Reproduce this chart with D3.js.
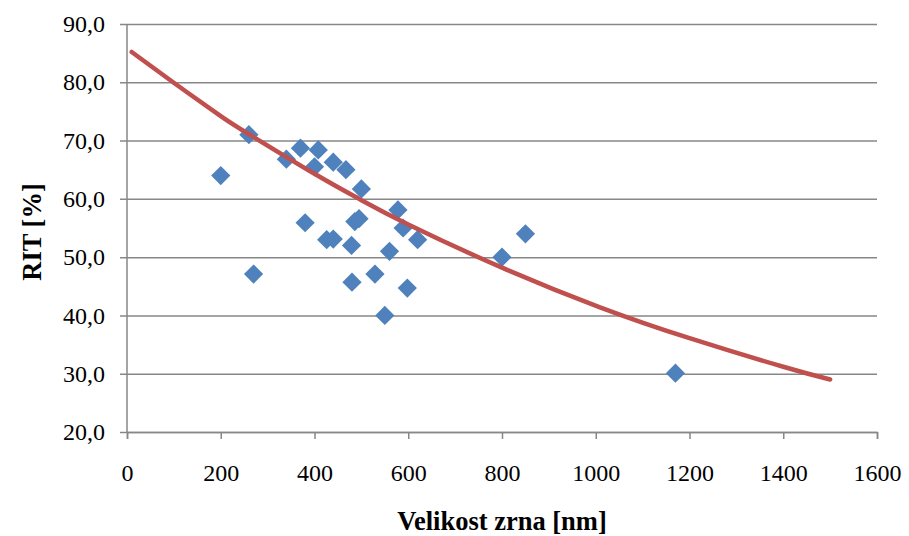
<!DOCTYPE html>
<html>
<head>
<meta charset="utf-8">
<script src="https://cdn.jsdelivr.net/npm/d3@7"></script>
<style>
  body { margin: 0; background: #fff; }
  .axis text { font-family: "Liberation Serif", "Times New Roman", serif; font-size: 24px; fill: #000; }
  .title { font-family: "Liberation Serif", "Times New Roman", serif; font-size: 26.5px; font-weight: bold; }
</style>
</head>
<body>
<div class="chart"></div>
<script>
// measured points: grain size [nm] vs RIT [%]
const grainSize = [200, 260, 270, 340, 370, 380, 400, 408, 426, 440, 440, 467, 479, 480, 486, 495, 500, 529, 550, 560, 578, 589, 598, 620, 800, 850, 1170];
const ritValues = [64.0, 71.0, 47.1, 66.8, 68.7, 55.9, 65.5, 68.4, 53.0, 53.1, 66.3, 65.0, 52.0, 45.7, 56.1, 56.6, 61.7, 47.1, 40.0, 51.0, 58.1, 55.0, 44.7, 53.0, 50.0, 54.0, 30.1];

// trendline
const trendX = [10, 102, 200, 262, 400, 495, 600, 800, 1009, 1200, 1400, 1500];
const trendY = [85.2, 79.8, 74.2, 71.0, 64.3, 60.0, 55.6, 48.2, 41.4, 36.1, 31.2, 29.0];

const xTicks = [0, 200, 400, 600, 800, 1000, 1200, 1400, 1600];
const yTicks = [20, 30, 40, 50, 60, 70, 80, 90];

const margin = ({top: 24, right: 32, bottom: 104, left: 127});
const width = 909 - margin.left - margin.right,
      height = 536 - margin.top - margin.bottom;

const svg = d3.select(".chart").append("svg")
    .attr("width", 909)
    .attr("height", 536)
  .append("g")
    .attr("transform", `translate(${margin.left},${margin.top})`);

const xScale = d3.scaleLinear().domain([0, 1600]).range([0, width]);
const yScale = d3.scaleLinear().domain([20, 90]).range([height, 0]);

const locale = d3.formatLocale({decimal: ",", thousands: "", grouping: [3], currency: ["", ""]});
const yFormat = locale.format(".1f");

// y axis + grid
const yAxis = d3.axisLeft(yScale).tickValues(yTicks).tickFormat(yFormat).tickSize(-width);
const gy = svg.append("g").attr("class", "axis y-axis").call(yAxis);
gy.select(".domain").remove();
gy.selectAll("line").attr("x1", -7).attr("stroke", "#878787").attr("stroke-width", 1.5);
gy.selectAll("text").attr("x", -22);

// x axis
const xAxis = d3.axisBottom(xScale).tickValues(xTicks).tickFormat(d3.format("d")).tickSize(7);
const gx = svg.append("g").attr("class", "axis x-axis")
    .attr("transform", `translate(0,${height})`)
    .call(xAxis);
gx.select(".domain").attr("stroke", "#878787").attr("stroke-width", 1.5);
gx.selectAll("line").attr("stroke", "#878787").attr("stroke-width", 1.5);
gx.selectAll("text").attr("dy", null).attr("y", 49);

// vertical axis line
svg.append("line")
    .attr("x1", 0).attr("x2", 0)
    .attr("y1", 0).attr("y2", height)
    .attr("stroke", "#878787").attr("stroke-width", 1.5);

// points
const points = grainSize.map((x, i) => ({x: x, y: ritValues[i]}));
const diamond = d3.symbol(d3.symbolSquare, 185);
svg.selectAll(".pt")
    .data(points)
    .enter()
    .append("path")
    .attr("class", "pt")
    .attr("d", diamond)
    .attr("transform", d => `translate(${xScale(d.x)},${yScale(d.y)}) rotate(45)`)
    .style("fill", "#4F81BD");

// trendline
const trend = trendX.map((x, i) => [x, trendY[i]]);
const line = d3.line()
    .x(d => xScale(d[0]))
    .y(d => yScale(d[1]))
    .curve(d3.curveNatural);
svg.append("path")
    .datum(trend)
    .attr("d", line)
    .attr("fill", "none")
    .attr("stroke", "#C0504D")
    .attr("stroke-width", 4.5)
    .attr("stroke-linecap", "round");

// axis titles
svg.append("text")
    .attr("class", "title")
    .attr("x", 502 - margin.left)
    .attr("y", 530 - margin.top)
    .attr("text-anchor", "middle")
    .text("Velikost zrna [nm]");

svg.append("text")
    .attr("class", "title")
    .attr("transform", `translate(${41 - margin.left},${232 - margin.top}) rotate(-90)`)
    .attr("text-anchor", "middle")
    .text("RIT [%]");
</script>
</body>
</html>
